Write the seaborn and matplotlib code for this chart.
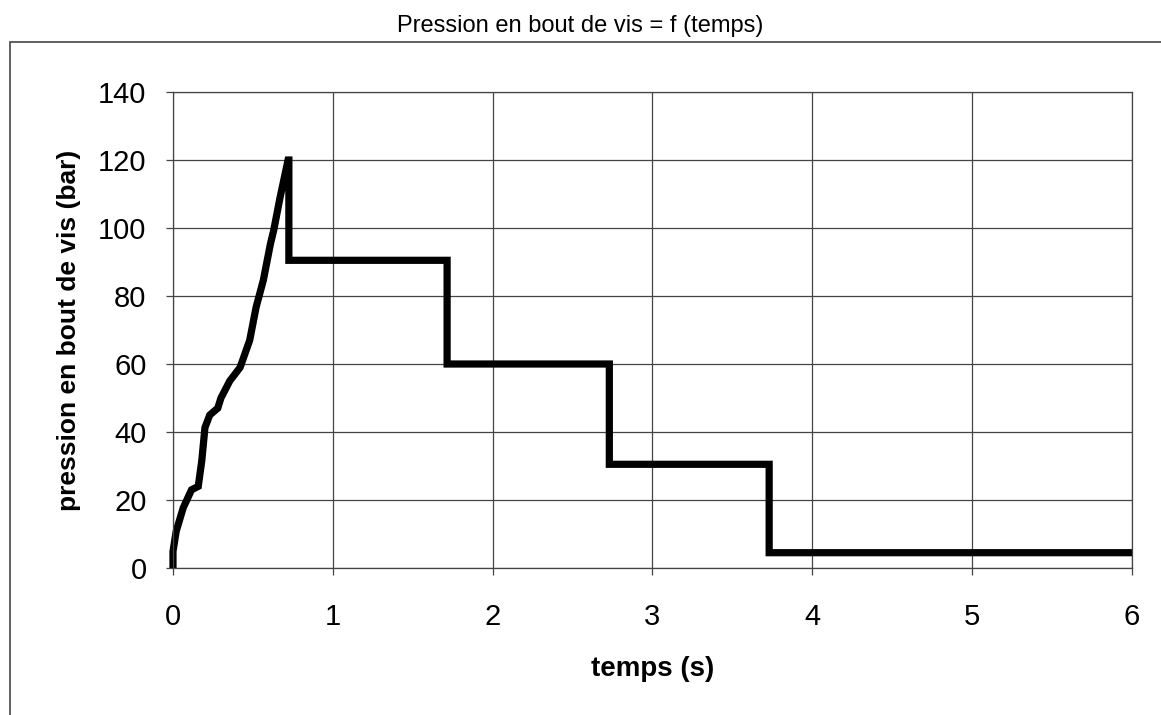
import pandas as pd
import seaborn as sns
import matplotlib.pyplot as plt
from matplotlib.patches import Rectangle

# valeurs
temps = [0.0, 0.0, 0.02, 0.064, 0.116, 0.158, 0.18, 0.20, 0.23, 0.28, 0.30,
         0.355, 0.42, 0.45, 0.48, 0.52, 0.565, 0.61, 0.63, 0.67, 0.72,
         0.725, 0.725, 1.715, 1.715, 2.73, 2.73, 3.73, 3.73, 6.0]
pression = [0.0, 4.9, 10.8, 17.7, 23.0, 24.0, 31.5, 41.3, 45.0, 47.0, 50.0,
            55.0, 59.0, 63.0, 67.0, 76.7, 84.6, 95.4, 99.3, 109.0, 120.0,
            120.0, 90.5, 90.5, 60.0, 60.0, 30.5, 30.5, 4.5, 4.5]

df = pd.DataFrame({'temps': temps, 'pression': pression})

sns.set_theme(style='white')
plt.rcParams['font.family'] = ['Liberation Sans', 'DejaVu Sans']
plt.rcParams['text.color'] = 'black'
plt.rcParams['axes.labelcolor'] = 'black'
plt.rcParams['xtick.color'] = 'black'
plt.rcParams['ytick.color'] = 'black'

fig = plt.figure(figsize=(11.61, 7.15), dpi=100)
ax = fig.add_axes([0.149, 0.2056, 0.826, 0.6657])

sns.lineplot(data=df, x='temps', y='pression', sort=False, estimator=None,
             color='black', linewidth=5.2, ax=ax)
for line in ax.lines:
    line.set_solid_joinstyle('miter')
    line.set_solid_capstyle('butt')
    line.set_clip_on(False)

ax.set_xlim(0, 6)
ax.set_ylim(0, 140)
ax.set_xticks(range(0, 7))
ax.set_yticks(range(0, 141, 20))
ax.grid(True, color='#444444', linewidth=0.9)
ax.set_axisbelow(True)
for s in ax.spines.values():
    s.set_color('#444444')
    s.set_linewidth(0.9)
ax.tick_params(axis='both', direction='out', length=5, width=0.9,
               color='#444444', labelcolor='black', labelsize=21,
               left=True, bottom=True)
ax.tick_params(axis='x', pad=20)
ax.tick_params(axis='y', pad=14)

ax.set_xlabel('temps (s)', fontsize=20, fontweight='bold', labelpad=18)
ax.set_ylabel('pression en bout de vis (bar)', fontsize=19, fontweight='bold',
              labelpad=12)

fig.text(0.5, 0.963, 'Pression en bout de vis = f (temps)', ha='center',
         va='center', fontsize=17)

fig.patches.append(Rectangle((10 / 1161, -0.05), 1.2, 1 - 42 / 715 + 0.05,
                             transform=fig.transFigure, fill=False,
                             edgecolor='#444444', linewidth=1.2))

fig.savefig('out.png', dpi=100, facecolor='white')
